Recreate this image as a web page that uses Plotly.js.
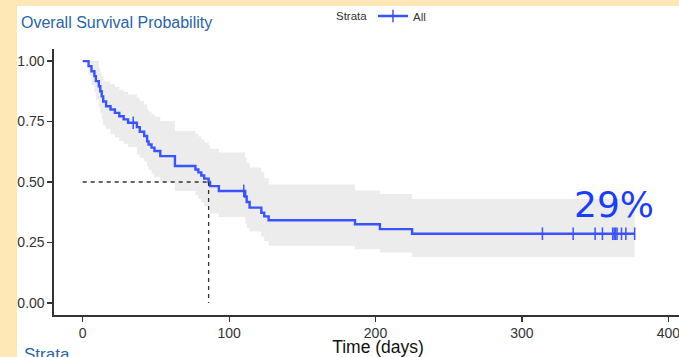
<!DOCTYPE html>
<html>
<head>
<meta charset="utf-8">
<script src="https://cdn.plot.ly/plotly-3.0.1.min.js"></script>
<style>
  html, body { margin:0; padding:0; width:679px; height:357px; overflow:hidden; background:#FDE8B6; }
  #plot { position:absolute; left:17px; top:6px; width:685px; height:351px; background:#fff; }
</style>
</head>
<body>
<div id="plot"></div>
<script>
// ---- data ----
const times = [0, 4, 6, 8, 9, 11, 12, 13, 14, 16, 19, 22, 25, 28, 31, 37, 39, 42, 44, 45, 47, 49, 53, 63, 77, 79, 81, 83, 86, 87, 93, 111, 112, 114, 122, 124, 127, 186, 203, 225];
const surv  = [1.000, 0.979, 0.958, 0.938, 0.917, 0.896, 0.875, 0.854, 0.833, 0.813, 0.800, 0.786, 0.772, 0.759, 0.745, 0.727, 0.708, 0.690, 0.668, 0.655, 0.642, 0.628, 0.607, 0.566, 0.552, 0.540, 0.527, 0.514, 0.500, 0.483, 0.463, 0.440, 0.417, 0.394, 0.373, 0.358, 0.342, 0.325, 0.305, 0.286];
const upper = [1.000, 1.000, 1.000, 1.000, 1.000, 0.970, 0.950, 0.935, 0.917, 0.915, 0.905, 0.893, 0.882, 0.872, 0.862, 0.848, 0.835, 0.820, 0.800, 0.790, 0.780, 0.770, 0.752, 0.711, 0.700, 0.688, 0.676, 0.664, 0.652, 0.638, 0.622, 0.600, 0.580, 0.560, 0.540, 0.515, 0.490, 0.465, 0.450, 0.430];
const lower = [1.000, 0.940, 0.900, 0.870, 0.840, 0.810, 0.785, 0.760, 0.735, 0.720, 0.700, 0.685, 0.670, 0.658, 0.645, 0.614, 0.600, 0.585, 0.565, 0.550, 0.535, 0.520, 0.500, 0.463, 0.445, 0.430, 0.415, 0.400, 0.385, 0.370, 0.355, 0.330, 0.310, 0.295, 0.275, 0.256, 0.236, 0.222, 0.208, 0.190];
const censorTimes = [34.5, 110, 314, 335, 350, 355, 362, 363, 364, 365, 368, 371, 377];
const endTime = 377;
const xTicks = [0, 100, 200, 300, 400];
const xTickLabels = ['0', '100', '200', '300', '400'];
const yTicks = [0, 0.25, 0.5, 0.75, 1];
const yTickLabels = ['0.00', '0.25', '0.50', '0.75', '1.00'];
const strataName = 'All';
const strataTitle = 'Strata';

// ---- derived ----
const blue = '#3a52ff';
const n = times.length;
const xs = times.concat([endTime]);
const ys = surv.concat([surv[n - 1]]);
const ups = upper.concat([upper[n - 1]]);
const lows = lower.concat([lower[n - 1]]);
function survAt(t) { let s = surv[0]; for (let i = 0; i < n; i++) { if (times[i] <= t) s = surv[i]; } return s; }
const censorY = censorTimes.map(survAt);
const medIdx = surv.findIndex(s => s <= 0.5);
const median = times[medIdx];
const finalPct = Math.round(surv[n - 1] * 100) + '%';

const censorMarker = { symbol: 'line-ns-open', size: 9, color: blue, line: { color: blue, width: 1.5 } };

const traces = [
  { x: xs, y: lows, mode: 'lines', line: { width: 0, shape: 'hv' }, hoverinfo: 'skip', showlegend: false },
  { x: xs, y: ups, mode: 'lines', line: { width: 0, shape: 'hv' }, fill: 'tonexty', fillcolor: '#ececec', hoverinfo: 'skip', showlegend: false },
  { x: xs, y: ys, mode: 'lines', line: { color: blue, width: 2.4, shape: 'hv' }, showlegend: false },
  { x: censorTimes, y: censorY, mode: 'markers', marker: censorMarker, showlegend: false },
  { x: [null], y: [null], mode: 'lines+markers', name: strataName, line: { color: blue, width: 2.4 }, marker: censorMarker, showlegend: true }
];

const axisCommon = {
  ticks: 'outside', ticklen: 5, tickwidth: 1.2, tickcolor: '#333',
  showline: true, linecolor: '#333', linewidth: 1.6,
  showgrid: false, zeroline: false,
  tickfont: { size: 14, color: '#333', family: 'Liberation Sans, Arial, sans-serif' }
};

const layout = {
  width: 685, height: 351,
  margin: { l: 37, r: 0, t: 43, b: 42 },
  paper_bgcolor: '#ffffff', plot_bgcolor: '#ffffff',
  font: { family: 'Liberation Sans, Arial, sans-serif', color: '#333' },
  title: { text: 'Overall Survival Probability', xref: 'container', x: 4 / 685, xanchor: 'left', yref: 'container', y: 1 - 16 / 351, yanchor: 'middle', font: { size: 16, color: '#2865A8' } },
  xaxis: Object.assign({}, axisCommon, { range: [-19.6, 423], tickvals: xTicks, ticktext: xTickLabels, title: { text: 'Time (days)', font: { size: 17.5, color: '#111' }, standoff: 10 } }),
  yaxis: Object.assign({}, axisCommon, { range: [-0.05, 1.05], tickvals: yTicks, ticktext: yTickLabels }),
  legend: { orientation: 'h', x: (356 - 37) / 648, xanchor: 'left', yref: 'container', y: 1 - 10 / 351, yanchor: 'middle', itemwidth: 30, bgcolor: 'rgba(0,0,0,0)', font: { size: 11.5, color: '#333' } },
  shapes: [
    { type: 'line', xref: 'x', yref: 'y', x0: 0, x1: median, y0: 0.5, y1: 0.5, line: { color: '#333', width: 1.3, dash: '4px,4px' } },
    { type: 'line', xref: 'x', yref: 'y', x0: median, x1: median, y0: 0.5, y1: 0, line: { color: '#333', width: 1.3, dash: '4px,4px' } }
  ],
  annotations: [
    { text: strataTitle, xref: 'paper', yref: 'paper', x: (317 - 37) / 648, y: 1 + (43 - 10) / 266, xanchor: 'left', yanchor: 'middle', showarrow: false, font: { size: 11.5, color: '#333' } },
    { text: finalPct, xref: 'x', yref: 'y', x: 362.7, y: 0.405, xanchor: 'center', yanchor: 'middle', showarrow: false, font: { family: 'DejaVu Sans', size: 36, color: '#1a3cff' } },
    { text: strataTitle, xref: 'paper', yref: 'paper', x: (5 - 37) / 648, y: -(337 - 309.4) / 266, xanchor: 'left', yanchor: 'top', showarrow: false, font: { size: 17, color: '#2865A8' } }
  ]
};

Plotly.newPlot('plot', traces, layout, { displayModeBar: false, staticPlot: true });
</script>
</body>
</html>
